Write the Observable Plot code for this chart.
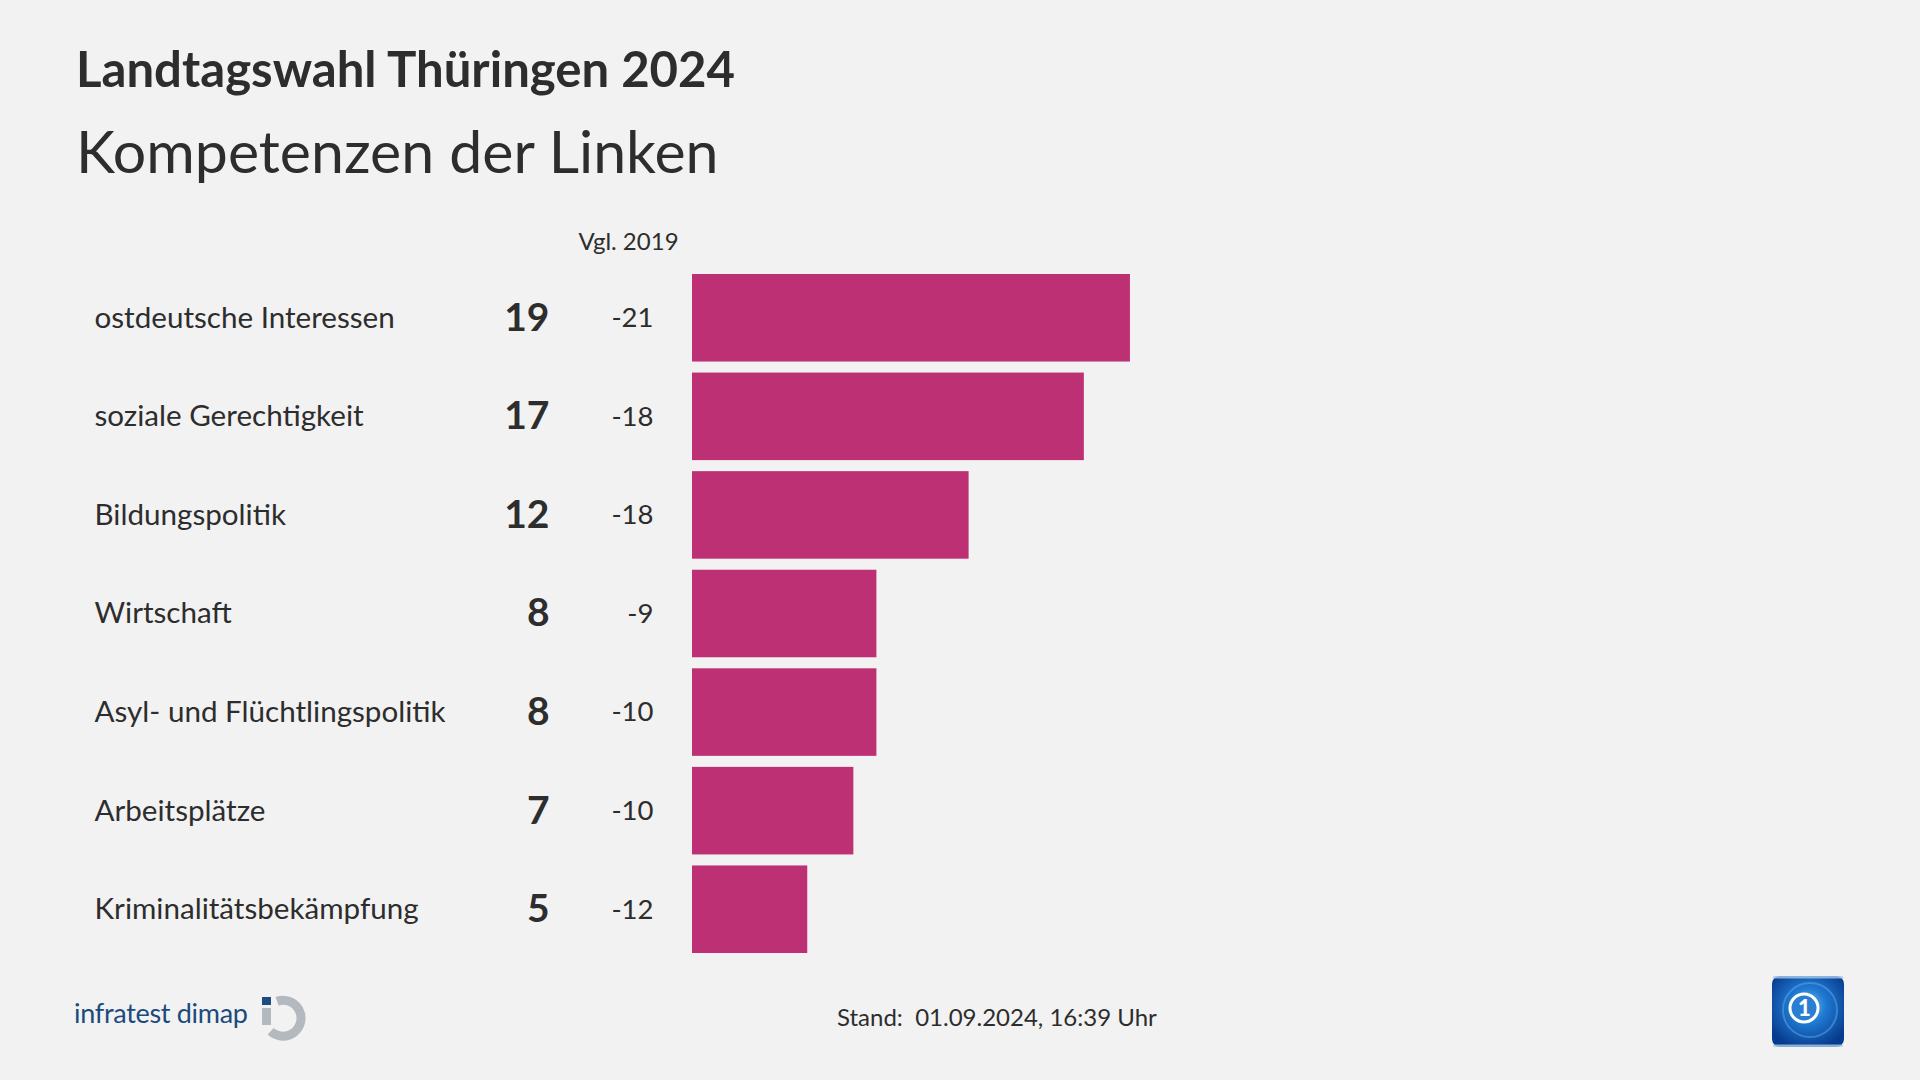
<!DOCTYPE html>
<html>
<head>
<meta charset="utf-8">
<script src="https://cdn.jsdelivr.net/npm/d3@7"></script>
<script src="https://cdn.jsdelivr.net/npm/@observablehq/plot@0.6"></script>
<style>
  html, body { margin: 0; padding: 0; background: #f2f2f2; }
  #wrap { position: relative; width: 1920px; height: 1080px; background: #f2f2f2; overflow: hidden;
          font-family: Lato, "Noto Sans", sans-serif; color: #2d2d2d; }
  .t { position: absolute; white-space: nowrap; line-height: 1; }
  #title { left: 76px; top: 44px; font-size: 49.1px; font-weight: 700; }
  #subtitle { left: 76px; top: 121px; font-size: 59px; font-weight: 400; }
  #stand { left: 837px; top: 1005px; font-size: 24px; }
  #infratest { left: 74px; top: 999px; font-size: 27px; color: #1c4a7c; letter-spacing: -0.3px; }
  #chart { position: absolute; left: 0; top: 0; }
  .logo { position: absolute; }
</style>
</head>
<body>
<div id="wrap">
  <div id="title" class="t"></div>
  <div id="subtitle" class="t"></div>
  <div id="chart"></div>
  <div id="stand" class="t"></div>
  <div id="infratest" class="t">infratest dimap</div>
  <svg class="logo" style="left:250px;top:990px" width="70" height="60" viewBox="0 0 70 60">
    <rect x="12" y="7" width="9" height="8" fill="#1d4b85"/>
    <rect x="12" y="18" width="9" height="17" fill="#b3b9be"/>
    <path d="M27.1 11.2 A18 18 0 1 1 20.7 41.3" fill="none" stroke="#b3b9be" stroke-width="9"/>
  </svg>
  <svg class="logo" style="left:1772px;top:976px" width="72" height="71" viewBox="0 0 72 71">
    <defs>
      <radialGradient id="g" cx="50%" cy="42%" r="62%">
        <stop offset="0%" stop-color="#6cc0f4"/>
        <stop offset="40%" stop-color="#2079d2"/>
        <stop offset="100%" stop-color="#073a8c"/>
      </radialGradient>
    </defs>
    <rect x="0" y="0" width="72" height="71" rx="8" fill="url(#g)"/>
    <rect x="1" y="0" width="70" height="2.5" rx="1.2" fill="#a9cbea" opacity="0.8"/>
    <rect x="1" y="68.5" width="70" height="2.5" rx="1.2" fill="#a9cbea" opacity="0.8"/>
    <circle cx="38" cy="34" r="27" fill="none" stroke="#58aef0" stroke-width="2" opacity="0.5"/>
    <circle cx="32" cy="32" r="14" fill="#2a7fd4" stroke="#ffffff" stroke-width="3"/>
    <text x="32.5" y="40" text-anchor="middle" font-family="Lato, sans-serif" font-weight="900" font-size="22" fill="#ffffff">1</text>
  </svg>
</div>
<script>
  // ---- data ----
  const titleText = "Landtagswahl Thüringen 2024";
  const subtitleText = "Kompetenzen der Linken";
  const headerText = "Vgl. 2019";
  const standText = "Stand:\u00a0\u00a001.09.2024, 16:39 Uhr";
  const categories = [
    "ostdeutsche Interessen",
    "soziale Gerechtigkeit",
    "Bildungspolitik",
    "Wirtschaft",
    "Asyl- und Flüchtlingspolitik",
    "Arbeitsplätze",
    "Kriminalitätsbekämpfung"
  ];
  const values = [19, 17, 12, 8, 8, 7, 5];
  const changes = [-21, -18, -18, -9, -10, -10, -12];

  const rows = categories.map((c, i) => ({cat: c, value: values[i], change: changes[i]}));

  document.getElementById("title").textContent = titleText;
  document.getElementById("subtitle").textContent = subtitleText;
  document.getElementById("stand").textContent = standText;

  const ink = "#2d2d2d";
  const chart = Plot.plot({
    width: 1920,
    height: 1080,
    marginTop: 274,
    marginBottom: 127,
    marginLeft: 692,
    marginRight: 306,
    x: {domain: [0, 40], axis: null},
    y: {domain: categories, axis: null, paddingInner: 0.112, paddingOuter: 0, round: false},
    style: {background: "transparent", fontFamily: "Lato, 'Noto Sans', sans-serif", color: ink, overflow: "visible"},
    marks: [
      Plot.barX(rows, {x: "value", y: "cat", fill: "#be3074"}),
      Plot.text(rows, {y: "cat", text: "cat", frameAnchor: "left", dx: -598, textAnchor: "start", fontSize: 29.6, fill: ink}),
      Plot.text(rows, {y: "cat", text: d => String(d.value), frameAnchor: "left", dx: -143, textAnchor: "end", fontSize: 39, fontWeight: 700, fill: ink}),
      Plot.text(rows, {y: "cat", text: d => String(d.change), frameAnchor: "left", dx: -39, textAnchor: "end", fontSize: 27.5, fill: ink}),
      Plot.text([headerText], {text: d => d, frameAnchor: "top-left", dx: -64, dy: -42, textAnchor: "middle", fontSize: 24, fill: ink})
    ]
  });
  document.getElementById("chart").appendChild(chart);
</script>
</body>
</html>
